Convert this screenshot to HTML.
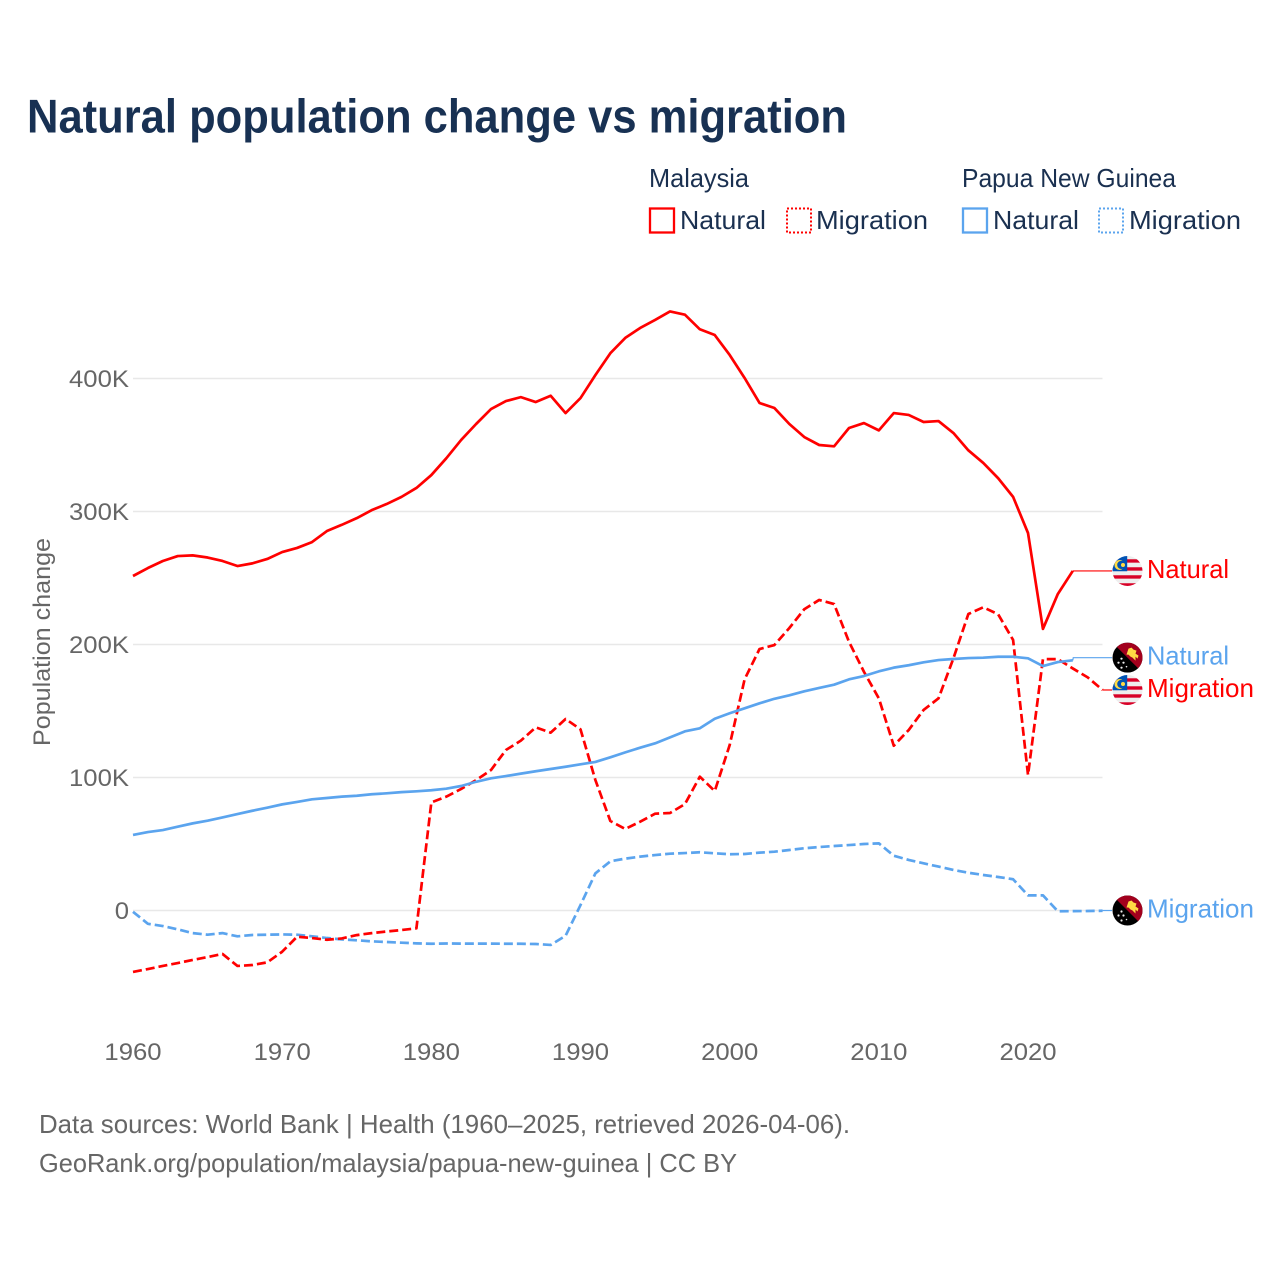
<!DOCTYPE html>
<html lang="en">
<head>
<meta charset="utf-8">
<title>Natural population change vs migration</title>
<style>
html,body{margin:0;padding:0;background:#fff;width:1280px;height:1280px;overflow:hidden}
svg{display:block}
text{font-family:"Liberation Sans",sans-serif}
.dark{fill:#1a3050}
.grey{fill:#666}
</style>
</head>
<body>
<svg id="chart" xmlns="http://www.w3.org/2000/svg" width="1280" height="1280" viewBox="0 0 1280 1280">
<defs>
<clipPath id="flag-clip"><circle cx="0" cy="0" r="15"/></clipPath>
<g id="flag-my" clip-path="url(#flag-clip)">
<rect x="-15" y="-15" width="30" height="30" fill="#eeeeee"/>
<rect x="-15" y="-11.7" width="30" height="3.4" fill="#d80027"/>
<rect x="-15" y="-3.7" width="30" height="3.4" fill="#d80027"/>
<rect x="-15" y="4.3" width="30" height="3.4" fill="#d80027"/>
<rect x="-15" y="12.3" width="30" height="3" fill="#d80027"/>
<rect x="-15" y="-15" width="14.7" height="15.3" fill="#0052b4"/>
<circle cx="-8" cy="-6" r="5" fill="#ffda44"/>
<circle cx="-6.2" cy="-6" r="4.1" fill="#0052b4"/>
<circle cx="-4.5" cy="-6" r="2" fill="#ffda44"/>
</g>
<g id="flag-pg" clip-path="url(#flag-clip)">
<rect x="-15" y="-15" width="30" height="30" fill="#000"/>
<polygon points="-15,-15 15,-15 15,15" fill="#a2001d"/>
<polygon points="1,-9 4,-10 6,-8 9,-7 8,-4 11,-2 10,1 8,-1 8,3 5,0 3,-1 1,-3 -1,-3" fill="#ffda44"/>
<circle cx="-6" cy="1" r="1.1" fill="#eee"/>
<circle cx="-9" cy="5" r="1.1" fill="#eee"/>
<circle cx="-4" cy="5" r="1.1" fill="#eee"/>
<circle cx="-6" cy="10" r="1.1" fill="#eee"/>
<circle cx="-1" cy="9" r="0.8" fill="#eee"/>
</g>
</defs>
<rect x="0" y="0" width="1280" height="1280" fill="#fff"/>
<text class="dark" x="27" y="132.5" font-size="47" font-weight="700" textLength="820" lengthAdjust="spacingAndGlyphs" style="fill:#183153">Natural population change vs migration</text>

<g font-size="26">
<text class="dark" x="649" y="187" textLength="100" lengthAdjust="spacingAndGlyphs">Malaysia</text>
<text class="dark" x="962" y="187" textLength="214" lengthAdjust="spacingAndGlyphs">Papua New Guinea</text>
<rect x="650" y="208.5" width="24" height="24" fill="none" stroke="#ff0000" stroke-width="2.3"/>
<text class="dark" x="680" y="229" textLength="86" lengthAdjust="spacingAndGlyphs">Natural</text>
<rect x="787" y="208.5" width="24" height="24" fill="none" stroke="#ff0000" stroke-width="2" stroke-dasharray="2 2"/>
<text class="dark" x="816" y="229" textLength="112" lengthAdjust="spacingAndGlyphs">Migration</text>
<rect x="963" y="208.5" width="24" height="24" fill="none" stroke="#5ba4ee" stroke-width="2.3"/>
<text class="dark" x="993" y="229" textLength="86" lengthAdjust="spacingAndGlyphs">Natural</text>
<rect x="1099" y="208.5" width="24" height="24" fill="none" stroke="#5ba4ee" stroke-width="2" stroke-dasharray="2 2"/>
<text class="dark" x="1129" y="229" textLength="112" lengthAdjust="spacingAndGlyphs">Migration</text>
</g>

<text class="grey" x="0" y="0" font-size="24" text-anchor="middle" textLength="208" lengthAdjust="spacingAndGlyphs" transform="translate(50 642) rotate(-90)">Population change</text>

<g id="grid"></g>
<g id="y-ticks"></g>
<g id="x-ticks"></g>
<g id="series"></g>
<g id="end-labels"></g>

<text class="grey" x="39" y="1133" font-size="26" textLength="811" lengthAdjust="spacingAndGlyphs">Data sources: World Bank | Health (1960–2025, retrieved 2026-04-06).</text>
<text class="grey" x="39" y="1172" font-size="26" textLength="698" lengthAdjust="spacingAndGlyphs">GeoRank.org/population/malaysia/papua-new-guinea | CC BY</text>
</svg>
<script>
var startYear = 1960;
var xTickYears = [1960, 1970, 1980, 1990, 2000, 2010, 2020];
var yTickValues = [0, 100, 200, 300, 400];
var yTickLabels = ['0', '100K', '200K', '300K', '400K'];

// thousands of people per year, starting at 1960
var malaysiaNatural = [251.5,257.5,262.8,266.5,267,265.4,262.8,259,261,264.3,269.5,272.6,277,285.3,290,295,301,305.6,311,317.7,327.4,340,353.8,365.8,377,383,386,382.3,387,374,385.3,402.6,419,430.5,438,444,450.4,448,437,432.7,417.7,400.4,381.6,377.8,365.8,356,350,349,362.8,366.5,361,374,372.6,367.3,368,359,346,336.5,325,311,283.8,211.7,238,255.3];
var malaysiaMigration = [-46.2,-44,-41.7,-39.5,-37.2,-35,-32.7,-41.7,-41,-39,-31,-19.7,-20.7,-22,-21,-18.5,-17,-15.8,-14.7,-13.4,81.3,85.6,91.4,98,105.6,120.7,127.7,137.7,133.7,144,136.2,98,67.3,61.3,66.8,72.8,73.3,80,100.6,89.8,124.4,173.8,196.6,199.6,212.4,226.5,233.5,230.4,202,179.5,159.5,123.9,135.7,150.8,159.5,189.6,222.9,228,222.7,203.4,101.9,189,189,182,175.3,165.8];
var pngNatural = [56.8,59,60.5,63,65.5,67.5,70,72.5,75,77.3,79.8,81.6,83.6,84.6,85.6,86.3,87.4,88.1,89,89.6,90.4,91.6,93.6,96.8,99.4,101.1,102.9,104.7,106.4,108.1,109.9,111.7,115.2,118.9,122.4,125.7,130.2,134.7,137,144.2,148.3,152,155.8,159.2,161.8,164.8,167.3,169.8,173.8,176.3,179.8,182.6,184.4,186.6,188.3,189.1,189.8,190.1,190.8,190.8,189.6,183.8,186.8,188.1];
var pngMigration = [-1,-10,-11.7,-14.2,-17,-18.2,-17,-19.4,-18.4,-18.2,-18,-18.2,-19.4,-20.7,-21.7,-22.4,-23.2,-23.7,-24.2,-24.7,-25,-24.8,-24.9,-24.9,-24.9,-25,-25,-25.2,-25.9,-19,4.1,28,37,39,40.5,41.7,42.7,43.2,43.8,43,42.3,42.5,43.5,44.2,45.5,46.8,47.7,48.5,49.2,50,50.5,41.2,38,35.5,33,30.5,28.4,26.7,25.2,23.5,11.4,11.4,-0.6,-0.5,-0.4,-0.2];
// value each end label sits at after de-overlap, in thousands
var endLabelValues = [255.3, 165.8, 190.1, 0];

var NS = 'http://www.w3.org/2000/svg';
var RED = '#ff0000';
var BLUE = '#5ba4ee';
function xScale(year) { return 133 + (year - startYear) * 14.917; }
function yScale(v) { return 910.5 - v * 1.33; }
function make(tag, parent, attrs) {
  var el = document.createElementNS(NS, tag);
  for (var k in attrs) { el.setAttribute(k, attrs[k]); }
  parent.appendChild(el);
  return el;
}
function stretch(el, factor) {
  el.setAttribute('textLength', el.getComputedTextLength() * factor);
  el.setAttribute('lengthAdjust', 'spacingAndGlyphs');
}

var gridG = document.getElementById('grid');
var yG = document.getElementById('y-ticks');
yTickValues.forEach(function (v, i) {
  var gl = make('line', gridG, {x1: 133, x2: 1102.5, y1: yScale(v), y2: yScale(v), stroke: '#e8e8e8', 'stroke-width': 1.5});
  
  
  var t = make('text', yG, {x: 129, y: yScale(v) + 8.5, 'text-anchor': 'end', 'font-size': 24, fill: '#666'});
  
  
  t.textContent = yTickLabels[i];
  stretch(t, 1.07);
});

var xG = document.getElementById('x-ticks');
xTickYears.forEach(function (yr) {
  var t = make('text', xG, {x: xScale(yr), y: 1060, 'text-anchor': 'middle', 'font-size': 24, fill: '#666'});
  
  
  t.textContent = String(yr);
  stretch(t, 1.07);
});

function pathFor(values) {
  return values.map(function (v, i) {
    return (i ? 'L' : 'M') + xScale(startYear + i).toFixed(2) + ' ' + yScale(v).toFixed(2);
  }).join(' ');
}

var seriesG = document.getElementById('series');
function drawSeries(values, color, dashed, name) {
  var p = make('path', seriesG, {d: pathFor(values), fill: 'none', stroke: color, 'stroke-width': 2.7, 'stroke-linejoin': 'round'});
  if (dashed) { p.setAttribute('stroke-dasharray', '9 4'); }
  
  
}
drawSeries(pngMigration, BLUE, true, 'line-png-migration');
drawSeries(malaysiaMigration, RED, true, 'line-malaysia-migration');
drawSeries(malaysiaNatural, RED, false, 'line-malaysia-natural');
drawSeries(pngNatural, BLUE, false, 'line-png-natural');

var labelG = document.getElementById('end-labels');
function drawEnd(values, labelValue, color, flag, text, width, name) {
  var lastX = xScale(startYear + values.length - 1);
  var lastY = yScale(values[values.length - 1]);
  var ly = yScale(labelValue);
  var c = make('path', labelG, {d: 'M' + lastX + ' ' + lastY + ' L' + (lastX + 0.5) + ' ' + ly + ' L1112 ' + ly, fill: 'none', stroke: color, 'stroke-width': 1.2});
  
  
  var u = make('use', labelG, {href: flag, transform: 'translate(1127.5 ' + ly + ')'});
  
  
  var t = make('text', labelG, {x: 1147, y: ly + 7, 'font-size': 26, fill: color, textLength: width, lengthAdjust: 'spacingAndGlyphs'});
  
  
  t.textContent = text;
}
drawEnd(malaysiaNatural, endLabelValues[0], RED, '#flag-my', 'Natural', 82, 'end-malaysia-natural');
drawEnd(malaysiaMigration, endLabelValues[1], RED, '#flag-my', 'Migration', 107, 'end-malaysia-migration');
drawEnd(pngNatural, endLabelValues[2], BLUE, '#flag-pg', 'Natural', 82, 'end-png-natural');
drawEnd(pngMigration, endLabelValues[3], BLUE, '#flag-pg', 'Migration', 107, 'end-png-migration');
</script>
</body>
</html>
